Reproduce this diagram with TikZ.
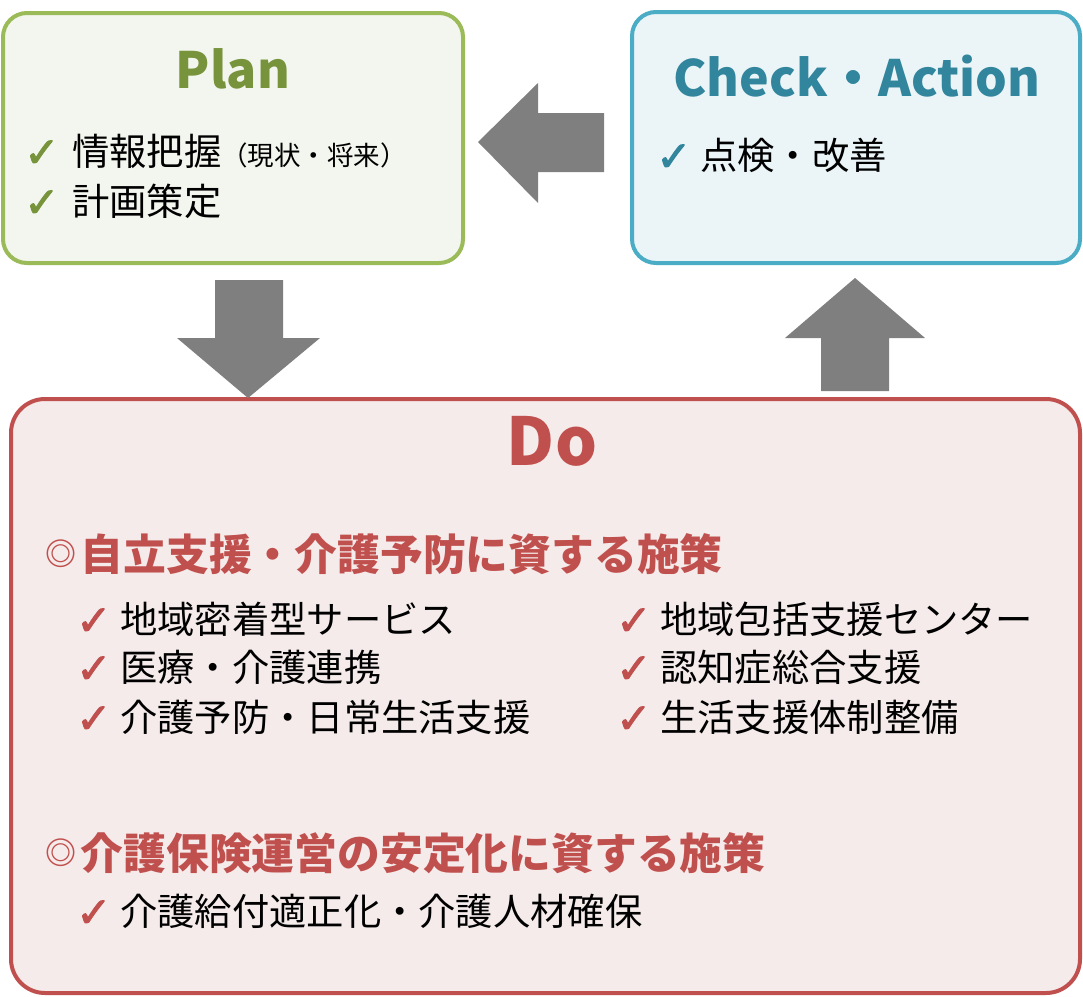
\documentclass[tikz,border=0pt]{standalone}
\usepackage{fontspec}
\setmainfont{Noto Sans CJK JP}
\newfontfamily\jp{Noto Sans CJK JP}
\newfontfamily\dvs[FakeBold=2.2]{DejaVu Sans}
\definecolor{plbd}{HTML}{9BBB59}
\definecolor{plfl}{HTML}{F3F6EE}
\definecolor{pltx}{HTML}{77933C}
\definecolor{ckbd}{HTML}{4BACC6}
\definecolor{ckfl}{HTML}{EBF5F8}
\definecolor{cktx}{HTML}{31859C}
\definecolor{dobd}{HTML}{C0504D}
\definecolor{dofl}{HTML}{F5EBEB}
\definecolor{arr}{HTML}{7F7F7F}
\newcommand\dmark{\raisebox{4.5pt}{\fontsize{31}{31}\selectfont ◎}\hspace{4.5pt}}
\begin{document}
\begin{tikzpicture}[x=1pt,y=-1pt,
  box/.style={line width=4pt},
  ttl/.style={inner sep=0pt,anchor=base,font=\jp\bfseries\fontsize{50}{56}\selectfont},
  itm/.style={inner sep=0pt,anchor=base west,font=\jp\fontsize{37.3}{40}\selectfont},
  hdg/.style={inner sep=0pt,anchor=base west,text=dobd,font=\jp\bfseries\fontsize{42.8}{46}\selectfont},
  tick/.style={inner sep=0pt,anchor=base west,font=\dvs\fontsize{42}{44}\selectfont}]
\useasboundingbox (0,0) rectangle (1083,996);
% boxes
\draw[box,draw=plbd,fill=plfl,rounded corners=24pt] (3,13) rectangle (463,263);
\draw[box,draw=ckbd,fill=ckfl,rounded corners=24pt] (632,12) rectangle (1080,263);
\draw[box,draw=dobd,fill=dofl,rounded corners=34pt] (11,399) rectangle (1080,993);
% block arrows
\fill[arr] (478,142) -- (538,83) -- (538,113) -- (604,113) -- (604,172) -- (538,172) -- (538,203) -- cycle;
\fill[arr] (215,280) -- (283,280) -- (283,338) -- (320,338) -- (248,398) -- (177,338) -- (215,338) -- cycle;
\fill[arr] (855,278) -- (925,338) -- (889,338) -- (889,391) -- (821,391) -- (821,338) -- (785,338) -- cycle;
% Plan
\node[ttl,text=pltx] (plan) at (233,88) {Plan};
\node[tick,text=pltx] (pc1) at (24,167) {✓};
\node[itm] (p1) at (72,165) {情報把握{\fontsize{26.5}{30}\selectfont （現状・将来）}};
\node[tick,text=pltx] (pc2) at (24,217) {✓};
\node[itm] (p2) at (72,215) {計画策定};
% Check
\node[ttl,text=cktx] (check) at (857,96) {Check・Action};
\node[tick,text=cktx] (cc1) at (656,171) {✓};
\node[itm] (c1) at (700,169) {点検・改善};
% Do
\node[ttl,text=dobd,font=\jp\bfseries\fontsize{66}{70}\selectfont] (do) at (552,465) {Do};
\node[hdg] (h1) at (45,570) {\dmark 自立支援・介護予防に資する施策};
\node[tick,text=dobd] (dc1) at (76,635) {✓};
\node[itm] (d1) at (120,633) {地域密着型サービス};
\node[tick,text=dobd] (dc2) at (76,683) {✓};
\node[itm] (d2) at (120,681) {医療・介護連携};
\node[tick,text=dobd] (dc3) at (76,733) {✓};
\node[itm] (d3) at (120,731) {介護予防・日常生活支援};
\node[tick,text=dobd] (dc4) at (616,635) {✓};
\node[itm] (d4) at (660,633) {地域包括支援センター};
\node[tick,text=dobd] (dc5) at (616,683) {✓};
\node[itm] (d5) at (660,681) {認知症総合支援};
\node[tick,text=dobd] (dc6) at (616,733) {✓};
\node[itm] (d6) at (660,731) {生活支援体制整備};
\node[hdg] (h2) at (45,869) {\dmark 介護保険運営の安定化に資する施策};
\node[tick,text=dobd] (dc7) at (76,927) {✓};
\node[itm] (d7) at (120,925) {介護給付適正化・介護人材確保};
\end{tikzpicture}
\end{document}
